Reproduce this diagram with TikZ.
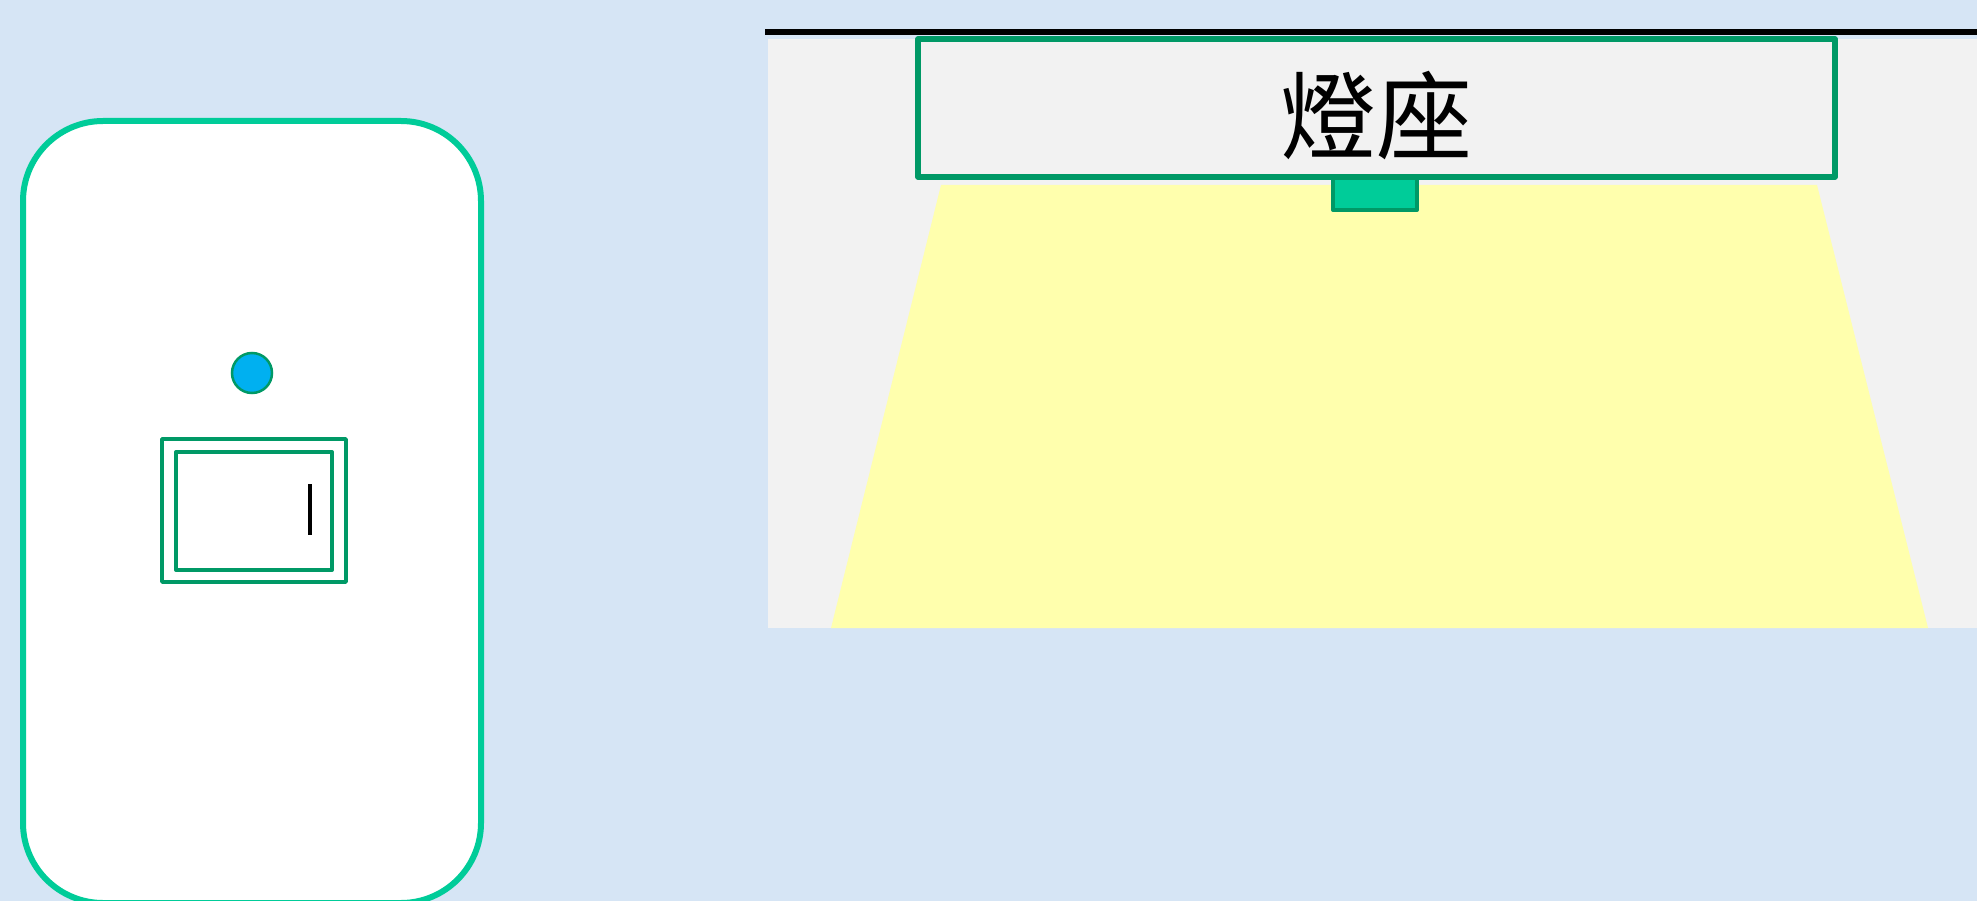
\documentclass[tikz,border=0pt]{standalone}
\usepackage{fontspec}
\newfontfamily\cjk{Noto Sans CJK TC}
\definecolor{bgblue}{RGB}{214,229,245}
\definecolor{mint}{RGB}{0,204,153}
\definecolor{dkgreen}{RGB}{0,153,102}
\definecolor{panelgray}{RGB}{242,242,242}
\definecolor{lightyellow}{RGB}{255,255,173}
\definecolor{skyblue}{RGB}{0,176,240}
\tikzset{
  switchline/.style={draw=dkgreen, line join=round},
  lampbox/.style={fill=panelgray, draw=dkgreen, line width=5.5pt, line join=round},
}
\begin{document}
\begin{tikzpicture}[x=1pt,y=-1pt]
\useasboundingbox (0,0) rectangle (1977,901);
\fill[bgblue] (0,0) rectangle (1977,901);
% wall plate with switch
\draw[draw=mint, fill=white, line width=6pt, rounded corners=80pt] (23,121) rectangle (481,903);
\node[circle, fill=skyblue, draw=dkgreen, line width=2.5pt, minimum size=40pt, inner sep=0pt] (led) at (252,373) {};
\draw[switchline, line width=3.5pt] (162,439) rectangle (346,582);
\draw[switchline, line width=4pt] (176,452) rectangle (332,570);
\draw[black, line width=4pt] (310,484) -- (310,535);
% ceiling and lamp
\draw[black, line width=6pt] (765,32) -- (1977,32);
\fill[panelgray] (768,39) rectangle (1977,628);
\fill[lightyellow] (941,185) -- (1817,185) -- (1928,628) -- (831,628) -- cycle;
\draw[fill=mint, draw=dkgreen, line width=4pt, line join=round] (1333,170) rectangle (1417,210);
\draw[lampbox] (918,39) rectangle (1835,177);
\node[inner sep=0pt, font=\cjk\fontsize{96}{110}\selectfont] (lamp) at (1376.5,116) {燈座};
\end{tikzpicture}
\end{document}
